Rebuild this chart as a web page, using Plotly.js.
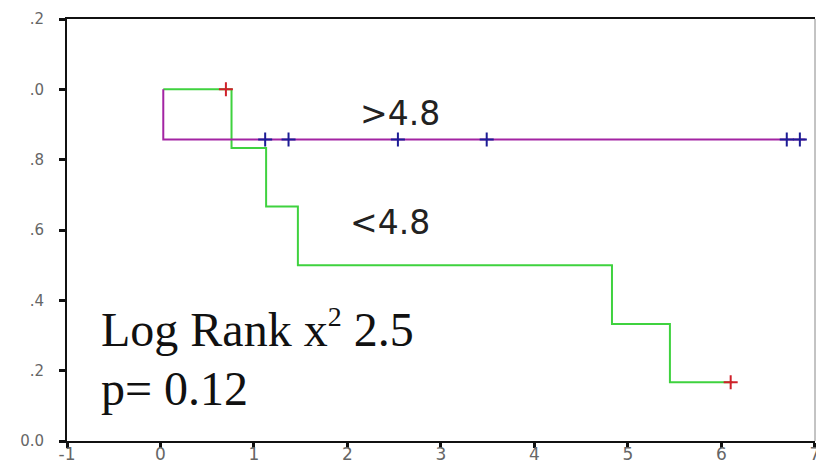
<!DOCTYPE html>
<html>
<head>
<meta charset="utf-8">
<script src="https://cdn.plot.ly/plotly-3.0.1.min.js"></script>
<style>
  html, body { margin: 0; padding: 0; background: #fff; }
  #chart { width: 816px; height: 464px; }
</style>
</head>
<body>
<div id="chart"></div>
<script>
// Kaplan-Meier survival, split at 4.8
// group below 4.8: step times and survival
const lowTimes = [0.03, 0.76, 1.13, 1.47, 4.83, 5.45, 6.12];
const lowSurv  = [1.0, 0.833, 0.667, 0.5, 0.333, 0.167, 0.167];
const lowCensorTimes = [0.70, 6.10];
const lowCensorSurv  = [1.0, 0.167];

// group above 4.8
const highTimes = [0.03, 0.03, 6.90];
const highSurv  = [1.0, 0.857, 0.857];
const highCensorTimes = [1.12, 1.37, 2.54, 3.49, 6.70, 6.84];
const highCensorSurv  = [0.857, 0.857, 0.857, 0.857, 0.857, 0.857];

const xTicks = [-1, 0, 1, 2, 3, 4, 5, 6, 7];
const yTicks = [0, 0.2, 0.4, 0.6, 0.8, 1.0, 1.2];
const yTickText = ['0.0', '.2', '.4', '.6', '.8', '.0', '.2'];

const traces = [
  {
    x: lowTimes, y: lowSurv, type: 'scatter', mode: 'lines',
    line: { shape: 'hv', color: '#3fd23f', width: 2 }
  },
  {
    x: highTimes, y: highSurv, type: 'scatter', mode: 'lines',
    line: { shape: 'hv', color: '#a324a3', width: 2 }
  },
  {
    x: lowCensorTimes, y: lowCensorSurv, type: 'scatter', mode: 'markers',
    marker: { symbol: 'cross-thin', size: 10, line: { color: '#d0202a', width: 2 } }
  },
  {
    x: highCensorTimes, y: highCensorSurv, type: 'scatter', mode: 'markers',
    marker: { symbol: 'cross-thin', size: 10, line: { color: '#1c1c96', width: 2 } }
  }
];

const tickFamily = 'DejaVu Sans, sans-serif';

const layout = {
  width: 816, height: 464,
  margin: { l: 67, r: 1, t: 19, b: 23 },
  paper_bgcolor: '#fff', plot_bgcolor: '#fff',
  showlegend: false,
  font: { family: tickFamily },
  xaxis: {
    range: [-1, 7.002], tickvals: xTicks, ticktext: xTicks.map(String),
    showgrid: false, zeroline: false,
    showline: true, linecolor: '#111', linewidth: 2, mirror: true,
    ticks: 'outside', ticklen: 5, tickwidth: 3, tickcolor: '#111',
    ticklabelstandoff: -8, ticklabeloverflow: 'allow',
    tickfont: { family: tickFamily, size: 17, color: '#666' }
  },
  yaxis: {
    range: [0, 1.2], tickvals: yTicks, ticktext: yTickText,
    showgrid: false, zeroline: false,
    showline: true, linecolor: '#111', linewidth: 2,
    ticks: 'outside', ticklen: 6, tickwidth: 3, tickcolor: '#111',
    ticklabelstandoff: 12,
    tickfont: { family: tickFamily, size: 15, color: '#666' }
  },
  shapes: [
    { type: 'line', xref: 'paper', yref: 'paper', x0: 1, x1: 1, y0: 0, y1: 1,
      line: { color: '#888', width: 1 } }
  ],
  annotations: [
    { text: '>4.8', x: 2.56, y: 0.93, xref: 'x', yref: 'y', showarrow: false,
      xanchor: 'center', yanchor: 'middle',
      font: { family: 'DejaVu Sans, sans-serif', size: 33, color: '#222' } },
    { text: '<4.8', x: 2.46, y: 0.62, xref: 'x', yref: 'y', showarrow: false,
      xanchor: 'center', yanchor: 'middle',
      font: { family: 'DejaVu Sans, sans-serif', size: 33, color: '#222' } },
    { text: 'Log Rank x<sup><span style="font-size:28px">2</span></sup> 2.5', x: -0.653, y: 0.32, xref: 'x', yref: 'y', showarrow: false,
      xanchor: 'left', yanchor: 'middle',
      font: { family: 'Liberation Serif, Times New Roman, serif', size: 48, color: '#111' } },
    { text: 'p= 0.12', x: -0.653, y: 0.15, xref: 'x', yref: 'y', showarrow: false,
      xanchor: 'left', yanchor: 'middle',
      font: { family: 'Liberation Serif, Times New Roman, serif', size: 48, color: '#111' } }
  ]
};

Plotly.newPlot('chart', traces, layout, { staticPlot: true, displayModeBar: false });
</script>
</body>
</html>
